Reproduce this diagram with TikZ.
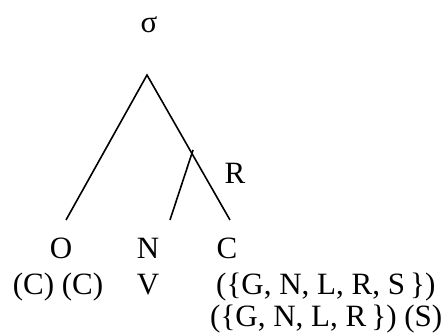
\documentclass[tikz,border=0pt]{standalone}
\usepackage{fontspec}
\setmainfont{Liberation Serif}
\begin{document}
\begin{tikzpicture}[x=1pt,y=-1pt,
  lbl/.style={inner sep=0pt,anchor=base,font=\fontsize{31}{36}\selectfont},
  branch/.style={line width=1.6pt}]
\useasboundingbox (0,0) rectangle (448,336);
\node[lbl] (sigma) at (149,33) {σ};
\coordinate (top) at (147,75);
\coordinate (rnode) at (193,150);
\coordinate (oend) at (66,220);
\coordinate (nend) at (170,220);
\coordinate (cend) at (230,220);
\draw[branch] (oend) -- (top) -- (cend);
\draw[branch] (rnode) -- (nend);
\node[lbl] (R) at (235,184) {R};
\node[lbl] (O) at (61,259) {O};
\node[lbl] (N) at (148,259) {N};
\node[lbl] (C) at (227,259) {C};
\node[lbl] (OC) at (58,295) {(C) (C)};
\node[lbl] (V) at (148,295) {V};
\node[lbl,anchor=base west] (C1) at (216,295) {(\{G, N, L, R, S\,\})};
\node[lbl,anchor=base west] (C2) at (210,327) {(\{G, N, L, R\,\}) (S)};
\end{tikzpicture}
\end{document}
